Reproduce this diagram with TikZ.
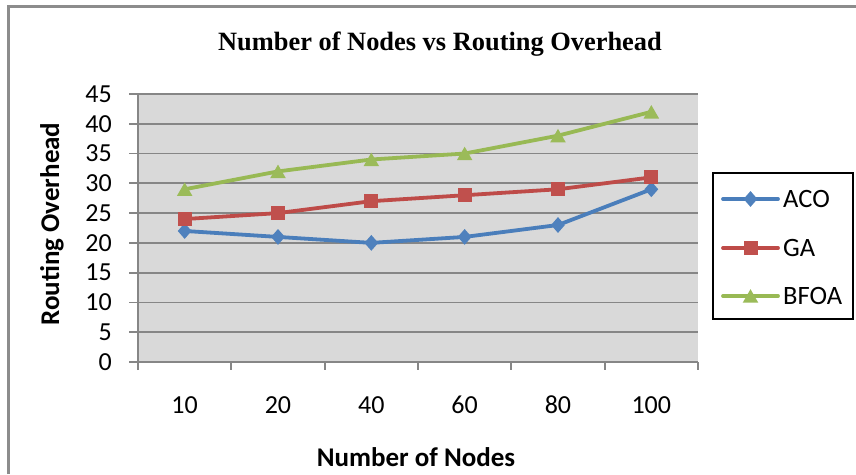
\documentclass[tikz,border=0pt]{standalone}
\usepackage{fontspec}
\setmainfont{Carlito}
\newfontfamily\titlefont{Liberation Serif}
\usetikzlibrary{shapes.geometric}

\definecolor{plotbg}{HTML}{D9D9D9}
\definecolor{gridgray}{HTML}{868686}
\definecolor{framegray}{HTML}{8C8C8C}
\definecolor{acoline}{HTML}{4A7EBB}
\definecolor{acofill}{HTML}{4F81BD}
\definecolor{galine}{HTML}{BE4B48}
\definecolor{gafill}{HTML}{C0504D}
\definecolor{bfline}{HTML}{98B954}
\definecolor{bffill}{HTML}{9BBB59}

\tikzset{
  series/.style={line width=3.8pt, line join=round, line cap=round},
  acomark/.style={diamond, fill=acofill, inner sep=0pt, minimum width=14pt, minimum height=16pt},
  gamark/.style={rectangle, fill=gafill, inner sep=0pt, minimum size=14pt},
  bfmark/.style={regular polygon, regular polygon sides=3, fill=bffill, inner sep=0pt, minimum size=18pt, yshift=-2.2pt},
  ticklab/.style={font=\fontsize{26}{30}\selectfont, inner sep=0pt},
  axistitle/.style={font=\fontsize{27}{31}\selectfont\bfseries, inner sep=0pt},
  legendtext/.style={font=\fontsize{26.5}{30}\selectfont, inner sep=0pt, anchor=west},
  gridline/.style={gridgray, line width=1.8pt},
}

\begin{document}
\begin{tikzpicture}[x=1pt, y=1pt]
  \useasboundingbox (0,0) rectangle (856,474);
  \fill[white] (0,0) rectangle (856,474);

  % chart frame (top and left edges)
  \draw[framegray, line width=2.5pt] (8.5,0) -- (8.5,467.5) -- (856,467.5);

  % title
  \node[font=\titlefont\bfseries\fontsize{26.4}{30}\selectfont, inner sep=0pt] (title) at (440,430)
    {Number of Nodes vs Routing Overhead};

  % plot area
  \fill[plotbg] (138,112) rectangle (698,380);
  \foreach \v in {1,...,9} {
    \draw[gridline] (129,112+29.78*\v) -- (698,112+29.78*\v);
  }
  \draw[gridline] (129,112) -- (698,112);
  \draw[gridline] (138,104) -- (138,380);
  \foreach \k in {1,...,6} {
    \draw[gridline] (138+93.33*\k,112) -- (138+93.33*\k,104);
  }

  % y tick labels
  \foreach \v [count=\j from 0] in {0,5,...,45} {
    \node[ticklab, anchor=east] (ylab\j) at (112,112+29.78*\j) {\v};
  }
  % x tick labels
  \foreach \n [count=\i] in {10,20,40,60,80,100} {
    \node[ticklab] (xlab\i) at (138+93.33*\i-46.67,69) {\n};
  }

  % axis titles
  \node[axistitle, rotate=90] (ytitle) at (52,250) {Routing Overhead};
  \node[axistitle] (xtitle) at (416,17) {Number of Nodes};

  % data series
  \begin{scope}[shift={(138,112)}, x=93.33pt, y=5.956pt]
    \foreach \v [count=\i] in {22,21,20,21,23,29} { \coordinate (aco\i) at (\i-0.5,\v); }
    \foreach \v [count=\i] in {24,25,27,28,29,31} { \coordinate (ga\i) at (\i-0.5,\v); }
    \foreach \v [count=\i] in {29,32,34,35,38,42} { \coordinate (bf\i) at (\i-0.5,\v); }
  \end{scope}

  \draw[series, acoline] (aco1) -- (aco2) -- (aco3) -- (aco4) -- (aco5) -- (aco6);
  \foreach \i in {1,...,6} { \node[acomark] (acoM\i) at (aco\i) {}; }
  \draw[series, galine] (ga1) -- (ga2) -- (ga3) -- (ga4) -- (ga5) -- (ga6);
  \foreach \i in {1,...,6} { \node[gamark] (gaM\i) at (ga\i) {}; }
  \draw[series, bfline] (bf1) -- (bf2) -- (bf3) -- (bf4) -- (bf5) -- (bf6);
  \foreach \i in {1,...,6} { \node[bfmark] (bfM\i) at (bf\i) {}; }

  % legend
  \node[draw=black, line width=1.3pt, minimum width=140pt, minimum height=146pt, inner sep=0pt] (legend) at (783,228) {};
  \coordinate (lgA1) at (723,275); \coordinate (lgA2) at (778,275);
  \coordinate (lgB1) at (723,226); \coordinate (lgB2) at (778,226);
  \coordinate (lgC1) at (723,178); \coordinate (lgC2) at (778,178);
  \draw[series, acoline] (lgA1) -- (lgA2);
  \node[acomark] (lgAM) at (750.5,275) {};
  \node[legendtext] (lgAT) at (783,275) {ACO};
  \draw[series, galine] (lgB1) -- (lgB2);
  \node[gamark] (lgBM) at (750.5,226) {};
  \node[legendtext] (lgBT) at (783,226) {GA};
  \draw[series, bfline] (lgC1) -- (lgC2);
  \node[bfmark] (lgCM) at (750.5,178) {};
  \node[legendtext] (lgCT) at (783,178) {BFOA};
\end{tikzpicture}
\end{document}
